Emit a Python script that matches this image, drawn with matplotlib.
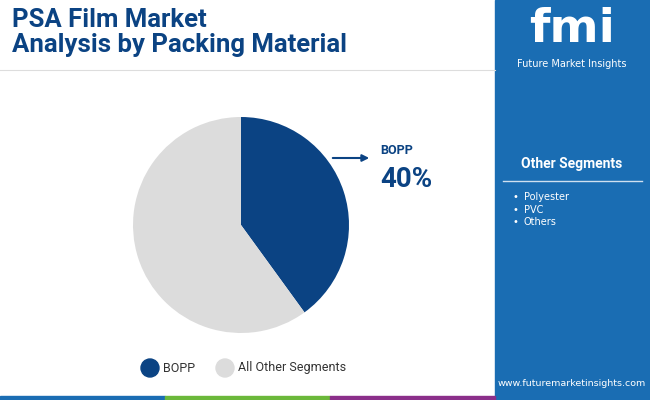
import matplotlib.pyplot as plt
from matplotlib.patches import Rectangle, Ellipse

labels = ['BOPP', 'All Other Segments']
shares = [40, 60]
colors = ['#0b4383', '#dcdcdc']
other_segments = ['Polyester', 'PVC', 'Others']

fig = plt.figure(figsize=(6.5, 4), dpi=100)
fig.patch.set_facecolor('white')

# right panel
fig.patches.append(Rectangle((495 / 650, 0), 155 / 650, 1, transform=fig.transFigure,
                             color='#1a6db3', zorder=0))
# bottom stripe
for x0, w, c in [(0, 165, '#1a6db3'), (165, 165, '#6bb83a'), (330, 165, '#8b2f8a')]:
    fig.patches.append(Rectangle((x0 / 650, 0), w / 650, 4 / 400, transform=fig.transFigure,
                                 color=c, zorder=1))
fig.lines.append(plt.Line2D([0, 495 / 650], [1 - 70 / 400] * 2, transform=fig.transFigure,
                            color='#dddddd', lw=0.8))

fig.text(12 / 650, 1 - 8 / 400, 'PSA Film Market\nAnalysis by Packing Material', ha='left', va='top',
         fontsize=18.5, fontweight='bold', color='#0b4383', family='Roboto', linespacing=1.05)

ax = fig.add_axes([(241 - 108) / 650, (400 - 225 - 108) / 400, 216 / 650, 216 / 400])
ax.pie(shares, colors=colors, startangle=90, counterclock=False, radius=1)
ax.set_xlim(-1, 1)
ax.set_ylim(-1, 1)
ax.set_aspect('equal')
ax.axis('off')

fig.text(380 / 650, 1 - 150 / 400, labels[0], fontsize=9, fontweight='bold', color='#0b4383',
         va='center', family='Roboto')
fig.text(380 / 650, 1 - 180 / 400, f'{shares[0]}%', fontsize=20, fontweight='bold', color='#0b4383',
         va='center', family='Roboto')
fig.add_artist(plt.Annotation('', xy=(372 / 650, 1 - 158 / 400), xytext=(330 / 650, 1 - 158 / 400),
                              xycoords='figure fraction',
                              arrowprops=dict(arrowstyle='-|>', color='#0b4383', lw=1.5)))

# legend
for i, (lab, c) in enumerate(zip(labels, colors)):
    x = [150, 225][i]
    fig.patches.append(Ellipse((x / 650, 1 - 368 / 400), 18 / 650, 18 / 400,
                               transform=fig.transFigure, color=c))
    fig.text((x + 13) / 650, 1 - 368 / 400, lab, fontsize=9, va='center', color='#333333',
             family='Roboto')

# right panel text
fig.text(572 / 650, 1 - 30 / 400, 'fmi', fontsize=34, fontweight='bold', color='white',
         ha='center', va='center', family='DejaVu Sans')
fig.text(572 / 650, 1 - 64 / 400, 'Future Market Insights', fontsize=7, color='white',
         ha='center', va='center')
fig.text(572 / 650, 1 - 164 / 400, 'Other Segments', fontsize=10, fontweight='bold', color='white',
         ha='center', va='center', family='Roboto')
fig.lines.append(plt.Line2D([503 / 650, 642 / 650], [1 - 181 / 400] * 2, transform=fig.transFigure,
                            color='#cfe0f0', lw=1))
for i, s in enumerate(other_segments):
    y = 1 - (197 + i * 12.5) / 400
    fig.text(512 / 650, y, '•', fontsize=7, color='white', va='center')
    fig.text(524 / 650, y, s, fontsize=7, color='white', va='center')
fig.text(572 / 650, 1 - 384 / 400, 'www.futuremarketinsights.com', fontsize=6.8, color='white',
         ha='center', va='center')

fig.savefig('out.png', dpi=100)
